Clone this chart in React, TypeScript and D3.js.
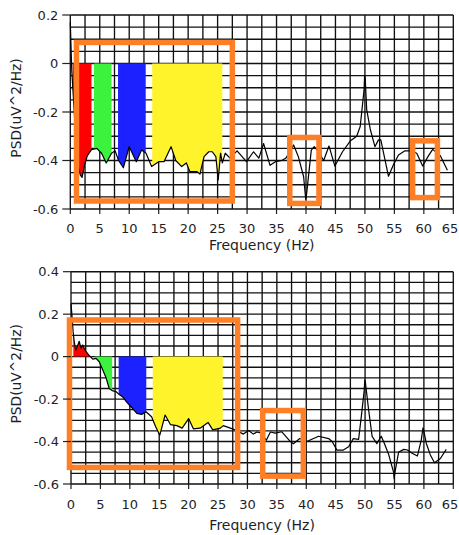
import React from "react";
import * as d3 from "d3";

// Power spectrum, first recording (frequency in Hz, PSD in uV^2/Hz)
const FREQ_TOP = [
  0, 0.25, 0.8, 1.3, 1.7, 2.0, 2.4, 2.9, 3.6, 4.5, 5.3, 6.1, 7.0, 7.6, 8.2, 9.0, 10.0, 11.2,
  12.1, 12.85, 13.8, 15.0, 15.9, 17.1, 17.9, 18.9, 19.7, 20.3, 21.5, 22.0, 22.7, 23.5, 24.1,
  24.7, 25.1, 25.5, 25.8, 26.3, 27.1, 28.3, 29.9, 31.1, 32.0, 32.8, 33.9, 34.8, 35.9, 36.6,
  37.9, 38.7, 39.6, 39.95, 40.05, 40.9, 41.4, 42.0, 43.0, 43.9, 44.9, 46.2, 47.5, 48.6, 49.2,
  49.85, 49.95, 50.05, 50.3, 50.9, 51.7, 52.3, 52.7, 53.0, 54.0, 54.8, 55.7, 56.8, 57.8, 58.8,
  59.8, 60.8, 61.5, 62.8, 64.0,
];
const PSD_TOP = [
  0.17, -0.03, -0.25, -0.42, -0.46, -0.47, -0.42, -0.38, -0.355, -0.35, -0.37, -0.41, -0.37,
  -0.36, -0.4, -0.43, -0.343, -0.405, -0.357, -0.37, -0.425, -0.405, -0.405, -0.343, -0.4,
  -0.425, -0.41, -0.446, -0.446, -0.456, -0.384, -0.364, -0.364, -0.384, -0.48, -0.37, -0.41,
  -0.37, -0.39, -0.36, -0.405, -0.364, -0.39, -0.33, -0.42, -0.405, -0.4, -0.39, -0.336,
  -0.384, -0.467, -0.56, -0.55, -0.357, -0.343, -0.36, -0.4, -0.34, -0.423, -0.364, -0.32,
  -0.3, -0.26, -0.11, -0.05, -0.06, -0.19, -0.27, -0.343, -0.315, -0.315, -0.35, -0.465,
  -0.42, -0.377, -0.36, -0.36, -0.37, -0.423, -0.38, -0.354, -0.38, -0.44,
];

// Power spectrum, second recording
const FREQ_BOTTOM = [
  0, 0.2, 0.35, 0.55, 0.8, 1.1, 1.4, 1.7, 2.0, 2.4, 3.0, 3.7, 4.25, 4.8, 5.4, 5.96, 6.5, 7.0,
  7.66, 8.1, 8.8, 9.4, 10.2, 11.2, 12.0, 12.76, 13.7, 14.4, 15.1, 16.0, 16.9, 18.0, 18.9, 20.0,
  20.8, 21.95, 23.3, 24.1, 25.4, 25.9, 27.1, 28.2, 29.3, 30.2, 31.0, 31.6, 32.4, 33.2, 33.9,
  34.7, 35.85, 37.3, 37.8, 38.9, 40.1, 42.1, 43.8, 44.4, 45.2, 46.3, 47.2, 48.0, 48.9, 49.45,
  49.85, 49.95, 50.05, 50.6, 51.2, 52.0, 52.75, 53.3, 54.0, 54.85, 54.95, 55.05, 55.7, 56.6,
  57.2, 58.0, 58.9, 59.55, 59.85, 59.95, 60.4, 61.1, 61.8, 62.8, 63.8,
];
const PSD_BOTTOM = [
  0.25, 0.18, 0.12, 0.07, 0.03, 0.05, 0.072, 0.04, 0.055, 0.03, 0.008, -0.012, -0.008,
  -0.024, -0.063, -0.1, -0.15, -0.16, -0.165, -0.176, -0.19, -0.212, -0.236, -0.267, -0.272,
  -0.26, -0.283, -0.33, -0.37, -0.275, -0.32, -0.325, -0.337, -0.292, -0.34, -0.337, -0.31,
  -0.345, -0.337, -0.325, -0.337, -0.348, -0.365, -0.348, -0.365, -0.355, -0.36, -0.394,
  -0.355, -0.36, -0.354, -0.4, -0.41, -0.386, -0.4, -0.375, -0.386, -0.4, -0.44, -0.44,
  -0.425, -0.386, -0.39, -0.26, -0.16, -0.11, -0.12, -0.25, -0.376, -0.41, -0.375, -0.41,
  -0.46, -0.545, -0.575, -0.55, -0.45, -0.437, -0.44, -0.455, -0.468, -0.393, -0.335,
  -0.345, -0.408, -0.463, -0.5, -0.48, -0.437,
];

// EEG bands shaded between 0 and the spectrum: delta, theta, alpha, beta
const BAND_START = [0.4, 4.0, 8.1, 13.9];
const BAND_END = [3.6, 7.0, 12.8, 25.8];
const BAND_COLORS = ["#ff0000", "#3df23d", "#1c22ff", "#fff42c"];

const X_TICKS = [0, 5, 10, 15, 20, 25, 30, 35, 40, 45, 50, 55, 60, 65];
const Y_TICKS_TOP = [0.2, 0, -0.2, -0.4, -0.6];
const Y_TICKS_BOTTOM = [0.4, 0.2, 0, -0.2, -0.4, -0.6];

// Highlight boxes: [f0, f1, psdTop, psdBottom]
const BOXES_TOP = [
  [1.05, 27.5, 0.087, -0.567],
  [37.25, 42.2, -0.305, -0.577],
  [58.1, 62.3, -0.319, -0.553],
];
const BOXES_BOTTOM = [
  [-0.26, 28.33, 0.1725, -0.522],
  [32.6, 39.5, -0.254, -0.563],
];

const FONT = "'DejaVu Sans', sans-serif";
const TEXT = "#1e1e28";
const SVG_W = 459;

type Frame = { left: number; right: number; top: number; bottom: number; tickDy: number; titleDy: number };

function fmt(v: number) {
  return (Math.round(v * 10) / 10).toString();
}

function Panel({
  freq,
  psd,
  yDomain,
  yTicks,
  boxes,
  frame,
}: {
  freq: number[];
  psd: number[];
  yDomain: [number, number];
  yTicks: number[];
  boxes: number[][];
  frame: Frame;
}) {
  const x = d3.scaleLinear().domain([0, 65]).range([frame.left, frame.right]);
  const y = d3.scaleLinear().domain(yDomain).range([frame.bottom, frame.top]);
  const pts = freq.map((f, i) => [f, psd[i]] as [number, number]);

  const interp = (f: number) => {
    const i = d3.bisector((d: [number, number]) => d[0]).left(pts, f);
    if (i <= 0) return pts[0][1];
    if (i >= pts.length) return pts[pts.length - 1][1];
    const [f0, v0] = pts[i - 1];
    const [f1, v1] = pts[i];
    return v0 + ((v1 - v0) * (f - f0)) / (f1 - f0);
  };

  const area = d3
    .area<[number, number]>()
    .x((d) => x(d[0]))
    .y0(y(0))
    .y1((d) => y(d[1]));
  const line = d3
    .line<[number, number]>()
    .x((d) => x(d[0]))
    .y((d) => y(d[1]));

  const vGrid = d3.range(0, 65.01, 2.5);
  const hGrid = d3.range(yDomain[0], yDomain[1] + 0.001, 0.05);

  const bands = BAND_START.map((a, k) => {
    const b = BAND_END[k];
    const seg: [number, number][] = [[a, interp(a)]];
    pts.forEach((p) => {
      if (p[0] > a && p[0] < b) seg.push(p);
    });
    seg.push([b, interp(b)]);
    return seg;
  });

  return (
    <g>
      <rect x={frame.left} y={frame.top} width={frame.right - frame.left} height={frame.bottom - frame.top} fill="#fff" />
      {vGrid.map((g) => (
        <line key={"v" + g} x1={x(g)} x2={x(g)} y1={frame.top} y2={frame.bottom} stroke="#111" strokeWidth={1.35} />
      ))}
      {hGrid.map((g, i) => (
        <line key={"h" + i} x1={frame.left} x2={frame.right} y1={y(g)} y2={y(g)} stroke="#111" strokeWidth={1.35} />
      ))}
      {bands.map((seg, k) => (
        <path key={"b" + k} d={area(seg) || ""} fill={BAND_COLORS[k]} />
      ))}
      <path d={line(pts) || ""} fill="none" stroke="#000" strokeWidth={1.2} strokeLinejoin="round" />
      {boxes.map((b, i) => (
        <rect
          key={"o" + i}
          x={x(b[0])}
          y={y(b[2])}
          width={x(b[1]) - x(b[0])}
          height={y(b[3]) - y(b[2])}
          fill="none"
          stroke="#ff7f27"
          strokeWidth={5.5}
        />
      ))}
      {yTicks.map((t) => (
        <g key={"yt" + t}>
          <line x1={frame.left - 8} x2={frame.left} y1={y(t)} y2={y(t)} stroke="#222" strokeWidth={1.2} />
          <text x={frame.left - 12} y={y(t)} dy="0.36em" textAnchor="end" fontFamily={FONT} fontSize={13} fill={TEXT}>
            {fmt(t)}
          </text>
        </g>
      ))}
      {X_TICKS.map((t) => (
        <g key={"xt" + t}>
          <line x1={x(t)} x2={x(t)} y1={frame.bottom} y2={frame.bottom + 5} stroke="#222" strokeWidth={1.2} />
          <text
            x={Math.min(x(t), SVG_W - 9)}
            y={frame.bottom + frame.tickDy}
            textAnchor="middle"
            fontFamily={FONT}
            fontSize={13}
            fill={TEXT}
          >
            {t}
          </text>
        </g>
      ))}
      <text
        x={(frame.left + frame.right) / 2}
        y={frame.bottom + frame.titleDy}
        textAnchor="middle"
        fontFamily={FONT}
        fontSize={14}
        fill={TEXT}
      >
        Frequency (Hz)
      </text>
      <text
        transform={`translate(21,${(frame.top + frame.bottom) / 2 - 4}) rotate(-90)`}
        textAnchor="middle"
        fontFamily={FONT}
        fontSize={13.8}
        fill={TEXT}
      >
        PSD(uV^2/Hz)
      </text>
    </g>
  );
}

export default function App() {
  return (
    <svg width={SVG_W} height={535} style={{ position: "absolute", left: 0, top: 0, background: "#fff" }}>
      <Panel
        freq={FREQ_TOP}
        psd={PSD_TOP}
        yDomain={[-0.6, 0.2]}
        yTicks={Y_TICKS_TOP}
        boxes={BOXES_TOP}
        frame={{ left: 70.3, right: 453.3, top: 15, bottom: 209, tickDy: 24, titleDy: 41 }}
      />
      <Panel
        freq={FREQ_BOTTOM}
        psd={PSD_BOTTOM}
        yDomain={[-0.6, 0.4]}
        yTicks={Y_TICKS_BOTTOM}
        boxes={BOXES_BOTTOM}
        frame={{ left: 71, right: 453.3, top: 271.7, bottom: 484, tickDy: 25, titleDy: 46 }}
      />
    </svg>
  );
}
